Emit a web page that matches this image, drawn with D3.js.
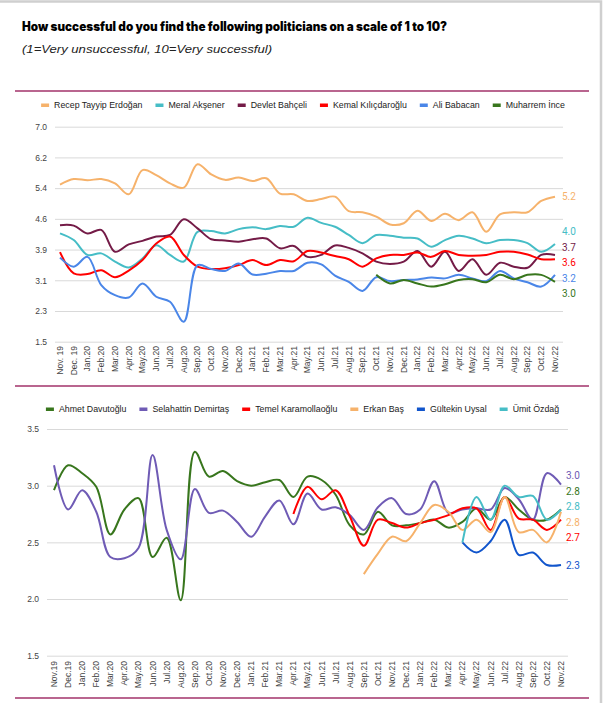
<!DOCTYPE html>
<html>
<head>
<meta charset="utf-8">
<script src="https://cdn.jsdelivr.net/npm/d3@7"></script>
<style>
  body { margin: 0; background: #fff; }
  svg { display: block; }
</style>
</head>
<body>
<div id="chart"></div>
<script>
const width = 605;
const height = 703;

// months on the x axis
const monthsTop = ["Nov. 19", "Dec. 19", "Jan.20", "Feb.20", "Mar.20", "Apr.20", "May.20", "Jun.20", "Jul.20", "Aug.20",
  "Sep.20", "Oct.20", "Nov.20", "Dec.20", "Jan.21", "Feb.21", "Mar.21", "Apr.21", "May.21", "Jun.21", "Jul.21", "Aug.21",
  "Sep.21", "Oct.21", "Nov.21", "Dec.21", "Jan.22", "Feb.22", "Mar.22", "Apr.22", "May.22", "Jun.22", "Jul.22", "Aug.22",
  "Sep.22", "Oct.22", "Nov.22"];
const monthsBottom = ["Nov.19", "Dec.19", "Jan.20", "Feb.20", "Mar.20", "Apr.20", "May.20", "Jun.20", "Jul.20", "Aug.20",
  "Sep.20", "Oct.20", "Nov.20", "Dec.20", "Jan.21", "Feb.21", "Mar.21", "Apr.21", "May.21", "Jun.21", "Jul.21", "Aug.21",
  "Sep.21", "Oct.21", "Nov.21", "Dec.21", "Jan.22", "Feb.22", "Mar.22", "Apr.22", "May.22", "Jun.22", "Jul.22", "Aug.22",
  "Sep.22", "Oct.22", "Nov.22"];

// top chart
const erdogan = [5.52, 5.66, 5.63, 5.66, 5.55, 5.27, 5.89, 5.76, 5.55, 5.44, 6.04, 5.78, 5.64, 5.70, 5.61, 5.68, 5.29, 5.27,
  5.10, 5.15, 5.21, 4.84, 4.81, 4.70, 4.50, 4.53, 4.85, 4.59, 4.77, 4.61, 4.81, 4.31, 4.76, 4.81, 4.81, 5.10, 5.21];
const aksener = [4.27, 4.10, 3.72, 3.76, 3.55, 3.40, 3.63, 3.97, 3.72, 3.55, 4.31, 4.33, 4.27, 4.38, 4.43, 4.38, 4.46, 4.44,
  4.67, 4.54, 4.44, 4.23, 4.02, 4.23, 4.21, 4.16, 4.14, 3.93, 4.10, 4.21, 4.14, 4.02, 4.10, 4.10, 4.02, 3.80, 4.00];
const bahceli = [4.48, 4.47, 4.27, 4.36, 3.80, 3.99, 4.08, 4.19, 4.23, 4.63, 4.40, 4.12, 4.09, 4.06, 4.12, 4.14, 3.89, 3.95,
  3.67, 3.72, 3.96, 3.90, 3.76, 3.55, 3.49, 3.55, 3.82, 3.42, 3.80, 3.31, 3.61, 3.21, 3.52, 3.42, 3.39, 3.72, 3.72];
const kilicdaroglu = [3.79, 3.25, 3.23, 3.33, 3.15, 3.32, 3.59, 4.01, 4.19, 3.72, 3.42, 3.36, 3.38, 3.46, 3.59, 3.46, 3.59, 3.56,
  3.82, 3.78, 3.69, 3.61, 3.42, 3.63, 3.72, 3.72, 3.78, 3.67, 3.82, 3.72, 3.70, 3.72, 3.80, 3.80, 3.73, 3.61, 3.61];
const babacan = [3.65, 3.42, 3.67, 2.95, 2.69, 2.63, 2.99, 2.65, 2.52, 2.01, 3.46, 3.36, 3.31, 3.50, 3.22, 3.24, 3.31, 3.31,
  3.52, 3.48, 3.19, 3.03, 2.80, 3.15, 3.05, 3.08, 3.09, 3.14, 3.12, 3.21, 3.12, 3.05, 3.31, 3.12, 3.02, 2.91, 3.21];
const ince = [null, null, null, null, null, null, null, null, null, null, null, null, null, null, null, null, null, null,
  null, null, null, null, null, 3.21, 2.99, 3.08, 2.99, 2.91, 2.97, 3.08, 3.10, 3.02, 3.21, 3.10, 3.21, 3.21, 3.03];

// bottom chart
const davutoglu = [2.96, 3.18, 3.11, 2.99, 2.57, 2.79, 2.89, 2.37, 2.54, 1.99, 3.30, 3.08, 3.13, 3.04, 3.00, 3.03, 3.05, 2.90,
  3.08, 3.05, 2.92, 2.65, 2.57, 2.77, 2.65, 2.65, 2.67, 2.70, 2.63, 2.68, 2.80, 2.70, 2.90, 2.79, 2.70, 2.70, 2.79];
const demirtas = [3.18, 2.79, 2.96, 2.77, 2.37, 2.36, 2.45, 3.27, 2.61, 2.35, 2.97, 2.76, 2.78, 2.68, 2.55, 2.73, 2.87, 2.66,
  2.93, 2.79, 2.81, 2.74, 2.61, 2.81, 2.89, 2.75, 2.79, 3.04, 2.76, 2.79, 2.80, 2.79, 2.98, 2.88, 2.70, 3.11, 3.01];
const karamollaoglu = [null, null, null, null, null, null, null, null, null, null, null, null, null, null, null, null, null, 2.75,
  2.99, 2.88, 2.96, 2.73, 2.47, 2.70, 2.67, 2.63, 2.67, 2.70, 2.74, 2.80, 2.80, 2.61, 2.90, 2.71, 2.70, 2.61, 2.70];
const bas = [null, null, null, null, null, null, null, null, null, null, null, null, null, null, null, null, null, null,
  null, null, null, null, 2.22, 2.40, 2.55, 2.51, 2.67, 2.83, 2.77, 2.61, 2.70, 2.59, 2.90, 2.59, 2.61, 2.50, 2.77];
const uysal = [null, null, null, null, null, null, null, null, null, null, null, null, null, null, null, null, null, null,
  null, null, null, null, null, null, null, null, null, null, null, 2.50, 2.41, 2.51, 2.70, 2.39, 2.41, 2.30, 2.30];
const ozdag = [null, null, null, null, null, null, null, null, null, null, null, null, null, null, null, null, null, null,
  null, null, null, null, null, null, null, null, null, null, null, 2.50, 2.90, 2.70, 3.00, 2.90, 2.91, 2.70, 2.79];

const namesTop = ["Recep Tayyip Erdoğan", "Meral Akşener", "Devlet Bahçeli", "Kemal Kılıçdaroğlu", "Ali Babacan", "Muharrem İnce"];
const valuesTop = [erdogan, aksener, bahceli, kilicdaroglu, babacan, ince];
const colorsTop = ["#f6b26b", "#46bdc6", "#741b47", "#ff0000", "#4a86e8", "#38761d"];

const namesBottom = ["Ahmet Davutoğlu", "Selahattin Demirtaş", "Temel Karamollaoğlu", "Erkan Baş", "Gültekin Uysal", "Ümit Özdağ"];
const valuesBottom = [davutoglu, demirtas, karamollaoglu, bas, uysal, ozdag];
const colorsBottom = ["#38761d", "#6f5bb5", "#ff0000", "#f6b26b", "#1155cc", "#46bdc6"];

const topTicks = d3.range(8).map((i) => 1.5 + (i * 5.5) / 7);
const bottomTicks = [1.5, 2.0, 2.5, 3.0, 3.5];

const font = "'Liberation Sans', Arial, sans-serif";

const svg = d3.select("#chart").append("svg").attr("width", width).attr("height", height);

// card frame
svg.append("rect")
  .attr("x", -4).attr("y", 1.5).attr("width", 605).attr("height", 720)
  .attr("fill", "none").attr("stroke", "#cfcfcf").attr("stroke-width", 2.5);

svg.append("text")
  .attr("x", 22).attr("y", 31)
  .attr("font-family", "Inter, 'Liberation Sans', sans-serif").attr("font-weight", 900).attr("font-size", 12.5)
  .attr("textLength", 425).attr("lengthAdjust", "spacingAndGlyphs")
  .attr("fill", "#000")
  .text("How successful do you find the following politicians on a scale of 1 to 10?");

svg.append("text")
  .attr("x", 22).attr("y", 53)
  .attr("font-family", font).attr("font-style", "italic").attr("font-size", 11.5)
  .attr("textLength", 250).attr("lengthAdjust", "spacingAndGlyphs")
  .attr("fill", "#222")
  .text("(1=Very unsuccessful, 10=Very successful)");

[91, 386, 698].forEach((y) => {
  svg.append("line")
    .attr("x1", 15).attr("x2", 589).attr("y1", y).attr("y2", y)
    .attr("stroke", "#b9658f").attr("stroke-width", 2);
});

function drawLegend(names, colors, cx, y) {
  const g = svg.append("g");
  const items = names.map((n, i) => {
    const t = g.append("text")
      .attr("font-family", font).attr("font-size", 8.8).attr("fill", "#222")
      .attr("y", y).attr("dy", "0.35em").text(n);
    return { t, w: t.node().getComputedTextLength(), c: colors[i] };
  });
  const sw = 8, sgap = 5, igap = 13;
  const total = d3.sum(items, (d) => sw + sgap + d.w) + igap * (items.length - 1);
  let x = cx - total / 2;
  items.forEach((d) => {
    g.append("rect").attr("x", x).attr("y", y - 1.5).attr("width", sw).attr("height", 3.5).attr("fill", d.c);
    d.t.attr("x", x + sw + sgap);
    x += sw + sgap + d.w + igap;
  });
}

function drawChart(opts) {
  const { months, series, colors, x0, x1, gx0, gx1, yTop, yBot, domain, ticks, labelY, labelDx } = opts;
  const x = d3.scalePoint().domain(months).range([x0, x1]);
  const y = d3.scaleLinear().domain(domain).range([yBot, yTop]);
  const g = svg.append("g");

  const yAxis = g.append("g")
    .attr("transform", `translate(${gx0},0)`)
    .call(d3.axisLeft(y).tickValues(ticks).tickFormat(d3.format(".1f")).tickSize(-(gx1 - gx0)).tickPadding(8));
  yAxis.select(".domain").remove();
  yAxis.selectAll(".tick line").attr("stroke", "#d9d9d9").attr("stroke-width", 1);
  yAxis.selectAll(".tick text").attr("font-family", font).attr("font-size", 8.5).attr("fill", "#444");

  g.selectAll(".xlab")
    .data(months)
    .join("text")
    .attr("class", "xlab")
    .attr("transform", (d) => `translate(${x(d)},${labelY}) rotate(-90)`)
    .attr("text-anchor", "end")
    .attr("dy", "0.35em")
    .attr("font-family", font).attr("font-size", 8.5).attr("fill", "#444")
    .text((d) => d);

  const line = d3.line()
    .defined((d) => d != null)
    .x((d, i) => x(months[i]))
    .y((d) => y(d))
    .curve(d3.curveCatmullRom.alpha(0.5));

  series.forEach((vals, i) => {
    g.append("path")
      .attr("d", line(vals))
      .attr("fill", "none")
      .attr("stroke", colors[i])
      .attr("stroke-width", 2)
      .attr("stroke-linejoin", "round");
  });

  // end labels, spread so they do not overlap
  const labels = series.map((vals, i) => {
    const last = vals[vals.length - 1];
    return { v: last, y: y(last), c: colors[i] };
  }).sort((a, b) => a.y - b.y);
  const gap = 15.5;
  let groups = labels.map((d) => ({ items: [d], top: d.y }));
  let merged = true;
  while (merged) {
    merged = false;
    for (let i = 0; i < groups.length - 1; i++) {
      const a = groups[i], b = groups[i + 1];
      if (a.top + a.items.length * gap > b.top) {
        const items = a.items.concat(b.items);
        const mean = d3.mean(items, (d) => d.y);
        groups.splice(i, 2, { items, top: mean - ((items.length - 1) * gap) / 2 });
        merged = true;
        break;
      }
    }
  }
  groups.forEach((gr) => gr.items.forEach((d, k) => { d.ly = gr.top + k * gap; }));

  g.selectAll(".endlab")
    .data(labels)
    .join("text")
    .attr("class", "endlab")
    .attr("x", x1 + labelDx)
    .attr("y", (d) => d.ly)
    .attr("dy", "0.35em")
    .attr("font-family", "Roboto, sans-serif").attr("font-size", 10)
    .attr("fill", (d) => d.c)
    .text((d) => d3.format(".1f")(d.v));
}

drawLegend(namesTop, colorsTop, 303, 105);
drawChart({
  months: monthsTop, series: valuesTop, colors: colorsTop,
  x0: 60, x1: 555, gx0: 55, gx1: 563, yTop: 126.7, yBot: 341.7,
  domain: [1.5, 7], ticks: topTicks, labelY: 346, labelDx: 7
});

drawLegend(namesBottom, colorsBottom, 302.5, 409);
drawChart({
  months: monthsBottom, series: valuesBottom, colors: colorsBottom,
  x0: 54, x1: 561, gx0: 47, gx1: 568, yTop: 429, yBot: 655.7,
  domain: [1.5, 3.5], ticks: bottomTicks, labelY: 661, labelDx: 5
});
</script>
</body>
</html>
